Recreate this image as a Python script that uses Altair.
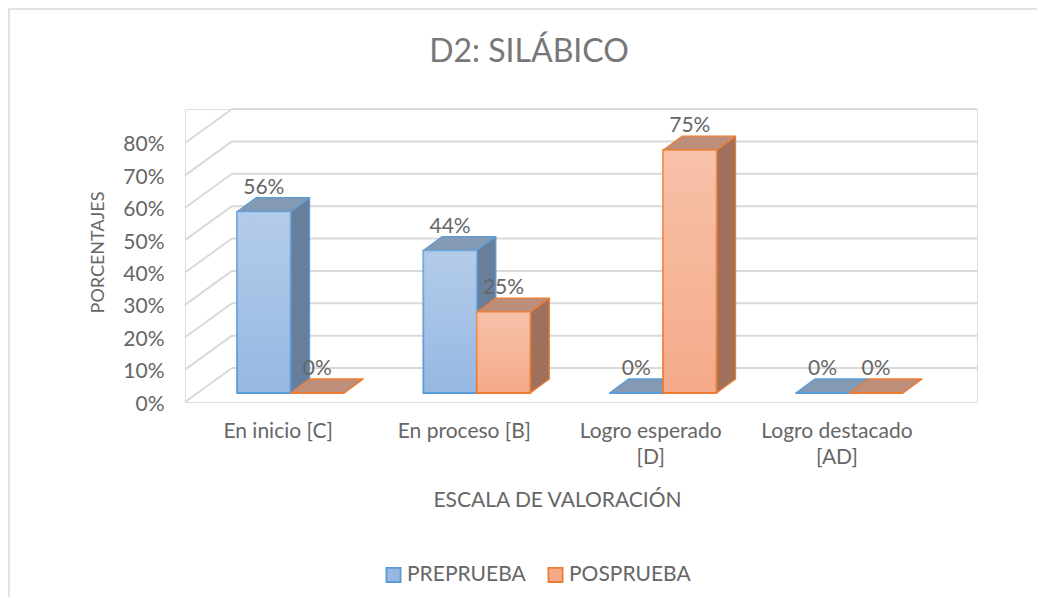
import altair as alt
import pandas as pd

# ---------------- data ----------------
CATEGORIES = ["En inicio [C]", "En proceso [B]", "Logro esperado [D]", "Logro destacado [AD]"]
CATEGORY_LINES = [["En inicio [C]"], ["En proceso [B]"], ["Logro esperado", "[D]"], ["Logro destacado", "[AD]"]]
SERIES = ["PREPRUEBA", "POSPRUEBA"]
PREPRUEBA = [56, 44, 0, 0]
POSPRUEBA = [0, 25, 75, 0]
TICKS = [0, 10, 20, 30, 40, 50, 60, 70, 80]

# ---------------- oblique 3D projection (in data units) ----------------
WALL_DX, WALL_DY = 0.252, 10.5     # depth of floor / wall
BASE_DX, BASE_DY = 0.0666, 2.78    # where the bars stand in depth
SIDE_DX, SIDE_DY = 0.102, 4.33     # bar depth
BAR_W = 0.287
X_MAX = len(CATEGORIES) + WALL_DX
Y_MAX = TICKS[-1] + WALL_DY

FONT = "Lato"
TXT = "#666666"
FS = 21
FILL = {"PREPRUEBA": "#97b8e2", "POSPRUEBA": "#f5aa89"}
STROKE = {"PREPRUEBA": "#5b9bd5", "POSPRUEBA": "#ed7d31"}
SIDE = {"PREPRUEBA": "#687f9c", "POSPRUEBA": "#9f705b"}
TOP = {"PREPRUEBA": "#8399b4", "POSPRUEBA": "#bd8e79"}

# ---------------- derived tables ----------------
bars, sides, tops = [], [], []
for i, cat in enumerate(CATEGORIES):
    center = i + 0.5 + BASE_DX
    for s, vals in zip(SERIES, [PREPRUEBA, POSPRUEBA]):
        v = vals[i]
        x0 = center - BAR_W if s == SERIES[0] else center
        x1 = x0 + BAR_W
        y0, y1 = BASE_DY, BASE_DY + v
        bars.append(dict(cat=cat, series=s, x0=x0, x1=x1, y0=y0, y1=y1,
                         xc=(x0 + x1) / 2, ylab=y1 + SIDE_DY, label=f"{v}%"))
        sides += [dict(cat=cat, series=s, x=x1, lo=y0, hi=y1),
                  dict(cat=cat, series=s, x=x1 + SIDE_DX, lo=y0 + SIDE_DY, hi=y1 + SIDE_DY)]
        tops += [dict(cat=cat, series=s, x=x0, lo=y1, hi=y1),
                 dict(cat=cat, series=s, x=x0 + SIDE_DX, lo=y1, hi=y1 + SIDE_DY),
                 dict(cat=cat, series=s, x=x1, lo=y1, hi=y1 + SIDE_DY),
                 dict(cat=cat, series=s, x=x1 + SIDE_DX, lo=y1 + SIDE_DY, hi=y1 + SIDE_DY)]
bars = pd.DataFrame(bars)
sides = pd.DataFrame(sides)
tops = pd.DataFrame(tops)

grid = pd.DataFrame([dict(t=t, xa=0, ya=t, xb=WALL_DX, yb=t + WALL_DY, xe=X_MAX) for t in TICKS])
cats = pd.DataFrame([dict(x=i + 0.5, y=0, lab="\n".join(lines)) for i, lines in enumerate(CATEGORY_LINES)])

xs = alt.Scale(domain=[0, X_MAX], nice=False, zero=False)
ys = alt.Scale(domain=[0, Y_MAX], nice=False, zero=False)

y_axis = alt.Axis(values=TICKS, labelExpr="datum.value + '%'", domain=False, ticks=False, grid=False,
                  labelPadding=21, labelOffset=2, labelFont=FONT, labelFontSize=FS, labelColor=TXT,
                  title="PORCENTAJES", titleFont=FONT, titleFontSize=18, titleFontWeight="normal",
                  titleColor=TXT, titleAngle=270, titleX=-87, titleY=143, titleAlign="center",
                  titleBaseline="middle")
x_axis = alt.Axis(labels=False, ticks=False, domain=False, grid=False,
                  title="ESCALA DE VALORACIÓN", titleFont=FONT, titleFontSize=FS,
                  titleFontWeight="normal", titleColor=TXT, titleX=372, titleY=98,
                  titleBaseline="middle", titleAlign="center")


def X(f):
    return alt.X(f, scale=xs, axis=x_axis)


def Y(f):
    return alt.Y(f, scale=ys, axis=y_axis)


# frame of the chart area
frame = alt.Chart(pd.DataFrame({"a": [0]})).mark_rect(fill=None, stroke="#d9d9d9", strokeWidth=1.5).encode(
    x=alt.value(-176), x2=alt.value(900), y=alt.value(-100), y2=alt.value(520))

diag = alt.Chart(grid).mark_rule(color="#d9d9d9", strokeWidth=2).encode(
    x=X("xa:Q"), x2="xb:Q", y=Y("ya:Q"), y2="yb:Q")
back = alt.Chart(grid).mark_rule(color="#d9d9d9", strokeWidth=2).encode(
    x=X("xb:Q"), x2="xe:Q", y=Y("yb:Q"))

layers = [frame, diag, back]
for s in SERIES:
    layers.append(alt.Chart(sides).transform_filter(alt.datum.series == s).mark_area(
        orient="vertical", fill=SIDE[s], stroke=STROKE[s], strokeWidth=1.3, strokeJoin="round").encode(
        x=X("x:Q"), y=Y("lo:Q"), y2="hi:Q", detail="cat:N"))
for s in SERIES:
    layers.append(alt.Chart(tops).transform_filter(alt.datum.series == s).mark_area(
        orient="vertical", fill=TOP[s], stroke=STROKE[s], strokeWidth=1.3, strokeJoin="round").encode(
        x=X("x:Q"), y=Y("lo:Q"), y2="hi:Q", detail="cat:N"))

leg = alt.Legend(title=None, orient="none", legendX=198, legendY=455,
                 direction="horizontal", symbolType="square", symbolSize=200,
                 symbolStrokeWidth=1.8, labelFont=FONT, labelFontSize=FS,
                 labelColor=TXT, columnPadding=18, labelOffset=3)
front = alt.Chart(bars).mark_rect(strokeWidth=1.8).encode(
    x=X("x0:Q"), x2="x1:Q", y=Y("y0:Q"), y2="y1:Q",
    fill=alt.Fill("series:N", scale=alt.Scale(domain=SERIES, range=[FILL[s] for s in SERIES]), legend=leg),
    stroke=alt.Stroke("series:N", scale=alt.Scale(domain=SERIES, range=[STROKE[s] for s in SERIES]),
                      legend=leg))
shine = alt.Chart(bars).mark_rect(
    fill=alt.Gradient(gradient="linear", x1=0, y1=0, x2=0, y2=1,
                      stops=[alt.GradientStop(color="rgba(255,255,255,0.28)", offset=0),
                             alt.GradientStop(color="rgba(255,255,255,0.0)", offset=1)])).encode(
    x=X("x0:Q"), x2="x1:Q", y=Y("y0:Q"), y2="y1:Q")

labels = alt.Chart(bars).mark_text(font=FONT, fontSize=FS, color=TXT, baseline="bottom", dy=0).encode(
    x=X("xc:Q"), y=Y("ylab:Q"), text="label:N")

catlab = alt.Chart(cats).mark_text(font=FONT, fontSize=FS, color=TXT, baseline="top", dy=19,
                                   lineBreak="\n", lineHeight=26).encode(
    x=X("x:Q"), y=Y("y:Q"), text="lab:N")

chart = alt.layer(*layers, front, shine, labels, catlab).properties(
    width=792, height=293,
    autosize=alt.AutoSizeParams(type="none"),
    padding={"left": 177, "top": 101, "right": 60, "bottom": 195},
    title=alt.TitleParams("D2: SILÁBICO", font=FONT, fontSize=32, fontWeight="normal", color="#777777",
                          anchor="middle", frame="group", dx=-52, offset=0, dy=61),
).configure_view(strokeWidth=0).configure(background="white")

chart.save("out.html", embed_options={"renderer": "svg", "actions": False})
